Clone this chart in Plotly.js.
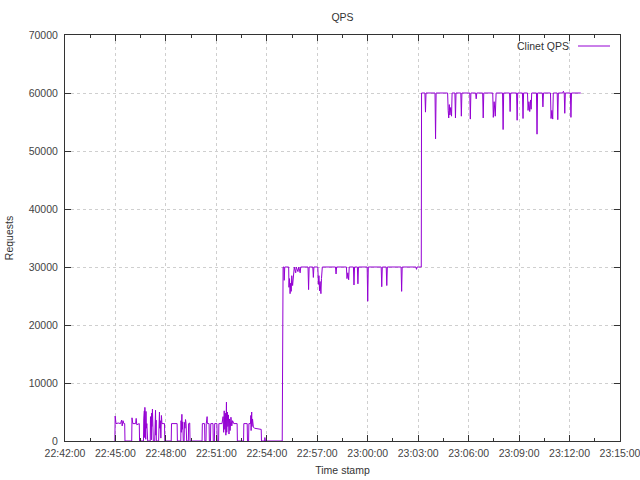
<!DOCTYPE html>
<html>
<head>
<meta charset="utf-8">
<script src="https://cdn.plot.ly/plotly-3.0.1.min.js"></script>
<style>html,body{margin:0;padding:0;background:#fff;}#chart{width:640px;height:480px;}</style>
</head>
<body>
<div id="chart"></div>
<script>
// Phase 1: low load (time of day, requests)
const phase1Times = ["22:44:58","22:44:59","22:45:02","22:45:10","22:45:18","22:45:22","22:45:24","22:45:27","22:45:30","22:45:33","22:45:34",
"22:45:58","22:45:59","22:46:02","22:46:12","22:46:14","22:46:16","22:46:25","22:46:26",
"22:46:40","22:46:41","22:46:42","22:46:43","22:46:44","22:46:45","22:46:46","22:46:47","22:46:48","22:46:49","22:46:50","22:46:52","22:46:55",
"22:47:04","22:47:05","22:47:06","22:47:07","22:47:08","22:47:09","22:47:10","22:47:12","22:47:13","22:47:14","22:47:15",
"22:47:20","22:47:21","22:47:22","22:47:23","22:47:24","22:47:25","22:47:26",
"22:47:34","22:47:35","22:47:36","22:47:37","22:47:38","22:47:40","22:47:42","22:47:44","22:47:46","22:47:55","22:47:56",
"22:48:19","22:48:20","22:48:40","22:48:41",
"22:48:53","22:48:54","22:48:55","22:48:57","22:48:58","22:49:00","22:49:02",
"22:49:05","22:49:06","22:49:08","22:49:10","22:49:12","22:49:14",
"22:49:20","22:49:21","22:49:25","22:49:26",
"22:50:09","22:50:10","22:50:18","22:50:19",
"22:50:23","22:50:24","22:50:27","22:50:28","22:50:30","22:50:34","22:50:35",
"22:50:39","22:50:40","22:50:48","22:50:49",
"22:50:53","22:50:54","22:51:02","22:51:03",
"22:51:08","22:51:09","22:51:20",
"22:51:24","22:51:26","22:51:28","22:51:30","22:51:32","22:51:34","22:51:36","22:51:37","22:51:39","22:51:41","22:51:43","22:51:45","22:51:47","22:51:49","22:51:52","22:51:55","22:51:58","22:52:02","22:52:14","22:52:15",
"22:52:37","22:52:38","22:52:50","22:52:51",
"22:52:55","22:52:56","22:53:02","22:53:03","22:53:04","22:53:06","22:53:07","22:53:09","22:53:12","22:53:16","22:53:40","22:53:41",
"22:53:52","22:53:53","22:53:55"];
const phase1Values = [0,4300,3000,3100,3000,3600,2600,3500,3000,3000,0,
0,4000,3000,3000,3900,2800,3000,0,
0,3800,1200,5200,600,5800,1800,4600,300,5100,2200,3000,0,
0,4200,1000,3500,200,4800,2500,5500,800,3900,0,
0,4700,1400,5300,1000,3600,0,
0,4200,1600,5000,2200,3500,500,4400,3000,3000,0,
0,3000,3000,0,
0,3500,1500,4600,2000,3300,0,
0,3200,2200,3700,3000,0,
0,3000,3100,0,
0,3000,3000,0,
0,3000,4200,3000,3000,3000,0,
0,3000,3000,0,
0,3000,3000,0,
0,3000,3000,
4200,1500,5200,2000,4800,1000,6700,1500,5000,2500,4500,1200,3800,1800,4100,2600,3500,3000,3000,0,
0,3000,3000,0,
0,3000,3000,4400,1800,5000,2500,3800,2400,2200,2000,0,
0,600,0];

// Phase 2: ~30000 requests/s
const phase2Times = ["22:54:55","22:54:56","22:54:58","22:55:01","22:55:02","22:55:04","22:55:18","22:55:19","22:55:21","22:55:23","22:55:25","22:55:27","22:55:29","22:55:32","22:55:35","22:55:38",
"22:55:43","22:55:45","22:55:51","22:55:54","22:55:59","22:56:01","22:56:27","22:56:29","22:56:31","22:56:44","22:56:46","22:56:48",
"22:57:02","22:57:04","22:57:06","22:57:08","22:57:10","22:57:13","22:57:15","22:57:18","22:58:05","22:58:07","22:58:09",
"22:58:44","22:58:46","22:58:49","22:58:52","22:58:54","22:59:09","22:59:11","22:59:13","22:59:23","22:59:25","22:59:27",
"22:59:58","23:00:00","23:00:02","23:00:48","23:00:50","23:00:52","23:01:06","23:01:08","23:01:10",
"23:01:59","23:02:01","23:02:03","23:02:52","23:02:54","23:02:56","23:03:11"];
const phase2Values = [0,15000,30000,30000,27700,30000,30000,26500,28000,25400,27200,25800,28500,26800,29000,30000,
29000,30000,29200,30000,29000,30000,30000,26100,30000,30000,28200,30000,
30000,27000,28500,25900,27500,25400,28000,30000,30000,28800,30000,
30000,28000,29000,27800,30000,30000,26900,30000,30000,27100,30000,
30000,24100,30000,30000,26600,30000,30000,26800,30000,
30000,25800,30000,30000,29600,30000,30000];

// Phase 3: ~60000 requests/s
const phase3Times = ["23:03:12","23:03:24","23:03:26","23:03:28","23:04:00","23:04:02","23:04:04","23:04:45","23:04:47","23:04:49","23:04:51","23:04:53","23:04:56","23:04:59","23:05:01",
"23:05:11","23:05:13","23:05:15","23:05:32","23:05:34","23:05:36","23:06:04","23:06:06","23:06:08","23:06:25","23:06:27","23:06:29",
"23:06:50","23:06:52","23:06:54","23:07:26","23:07:28","23:07:31","23:07:35","23:07:38","23:08:01","23:08:03","23:08:05",
"23:08:26","23:08:28","23:08:30","23:08:51","23:08:53","23:08:55","23:09:12","23:09:14","23:09:16",
"23:09:30","23:09:32","23:09:35","23:09:38","23:09:41","23:09:43","23:09:45","23:10:02","23:10:04","23:10:06",
"23:10:23","23:10:25","23:10:27","23:10:52","23:10:54","23:10:57","23:11:00","23:11:02","23:11:16","23:11:18","23:11:20",
"23:11:36","23:11:38","23:11:41","23:11:43","23:11:45","23:12:03","23:12:05","23:12:07","23:12:40"];
const phase3Values = [60000,60000,56700,60000,60000,52100,60000,60000,57000,55700,58000,56200,57500,56000,60000,
60000,55700,60000,60000,56000,60000,60000,55500,60000,60000,59000,60000,
60000,55700,60000,60000,55800,58500,56000,60000,60000,53700,60000,
60000,56800,60000,60000,55300,60000,60000,55600,60000,
60000,57000,58500,56800,58800,57200,60000,60000,52900,60000,
60000,57600,60000,60000,55600,57000,55500,60000,60000,55400,60000,
60000,60300,60000,56500,60000,60000,55800,60000,60000];

const day = "2015-06-01 ";
const seriesName = "Clinet QPS";
const times = phase1Times.concat(phase2Times, phase3Times).map(t => day + t);
const requests = phase1Values.concat(phase2Values, phase3Values);

const fam = "Liberation Sans, Arial, sans-serif";
const fsize = 10.5;
const font = {family: fam, size: fsize, color: "#444"};

const trace = {
  x: times, y: requests, type: "scatter", mode: "lines", name: seriesName,
  line: {color: "#9400D3", width: 1}, showlegend: false, hoverinfo: "x+y"
};

const plotL = 65, plotR = 620, plotT = 35, plotB = 441;
const legendY = (plotB - 46) / (plotB - plotT);

const layout = {
  width: 640, height: 480,
  margin: {l: plotL, r: 640 - plotR, t: plotT, b: 480 - plotB, pad: 0},
  paper_bgcolor: "#fff", plot_bgcolor: "#fff",
  font: font,
  title: {text: "QPS", font: {family: fam, size: fsize, color: "#333"}, x: 0.5, xref: "paper", y: 1 - 17/480, yref: "container", yanchor: "middle"},
  xaxis: {
    type: "date",
    range: [day + "22:42:00", day + "23:15:00"],
    tick0: day + "22:42:00", dtick: 180000,
    tickformat: "%H:%M:%S",
    ticks: "inside", ticklen: 6, tickcolor: "#333", tickwidth: 1,
    minor: {dtick: 90000, ticks: "inside", ticklen: 3, tickcolor: "#333", showgrid: false},
    showline: true, linecolor: "#333", linewidth: 1, mirror: "ticks",
    showgrid: true, gridcolor: "#cfcfcf", griddash: "dot", gridwidth: 1,
    zeroline: false,
    ticklabeloverflow: "allow",
    ticklabelstandoff: 2,
    tickfont: {family: fam, size: fsize, color: "#444"},
    title: {text: "Time stamp", font: {family: fam, size: fsize, color: "#333"}, standoff: 9}
  },
  yaxis: {
    range: [0, 70000], dtick: 10000, tickformat: "d",
    ticks: "inside", ticklen: 6, tickcolor: "#333", tickwidth: 1,
    showline: true, linecolor: "#333", linewidth: 1, mirror: "ticks",
    showgrid: true, gridcolor: "#cfcfcf", griddash: "dot", gridwidth: 1,
    zeroline: false,
    ticklabelstandoff: 4,
    tickfont: {family: fam, size: fsize, color: "#444"},
    title: {text: "Requests", font: {family: fam, size: fsize, color: "#333"}, standoff: 13}
  },
  annotations: [{
    text: seriesName, xref: "paper", yref: "paper", x: (571 - plotL) / (plotR - plotL), y: legendY,
    xanchor: "right", yanchor: "middle", showarrow: false,
    font: {family: fam, size: fsize, color: "#333"}
  }],
  shapes: [{
    type: "line", xref: "paper", yref: "paper",
    x0: (578 - plotL) / (plotR - plotL), x1: (610 - plotL) / (plotR - plotL), y0: legendY, y1: legendY,
    line: {color: "#9400D3", width: 1}
  }]
};

Plotly.newPlot("chart", [trace], layout, {displayModeBar: false, staticPlot: true});
</script>
</body>
</html>
